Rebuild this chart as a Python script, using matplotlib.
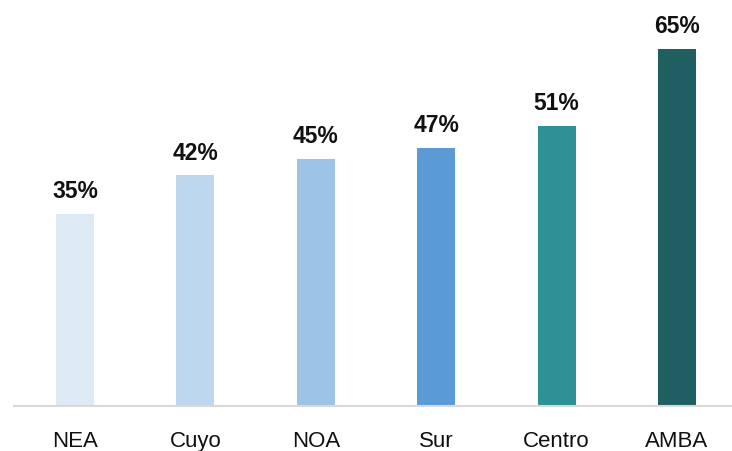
import matplotlib
matplotlib.use("Agg")
from matplotlib import pyplot as plt

regions = ["NEA", "Cuyo", "NOA", "Sur", "Centro", "AMBA"]
shares = [35, 42, 45, 47, 51, 65]
colors = ["#DDEAF6", "#BDD7EE", "#9DC3E6", "#5B9BD5", "#2E9196", "#1F5F62"]

plt.rcParams["font.family"] = ["Liberation Sans", "DejaVu Sans"]

fig = plt.figure(figsize=(7.32, 4.52), dpi=100)
ax = fig.add_axes([14 / 732, 1 - 407 / 452, 1 - 14 / 732, 407 / 452])

x = range(len(regions))
ax.bar(x, shares, width=0.315, color=colors, zorder=2)
for xi, v in zip(x, shares):
    ax.annotate(f"{v}%", (xi, v), xytext=(0, 8), textcoords="offset points",
                ha="center", va="bottom", fontsize=16.5, fontweight="bold",
                color="#111111")

ax.set_xlim(-0.507, 5.457)
ax.set_ylim(0, 74)
ax.set_yticks([])
ax.set_xticks(list(x))
ax.set_xticklabels(regions, fontsize=16, color="#111111")
ax.tick_params(axis="x", length=0, pad=17)
for side in ["top", "right", "left"]:
    ax.spines[side].set_visible(False)
ax.spines["bottom"].set_color("#D9D9D9")
ax.spines["bottom"].set_linewidth(1.5)

fig.savefig("out.png", dpi=100)
